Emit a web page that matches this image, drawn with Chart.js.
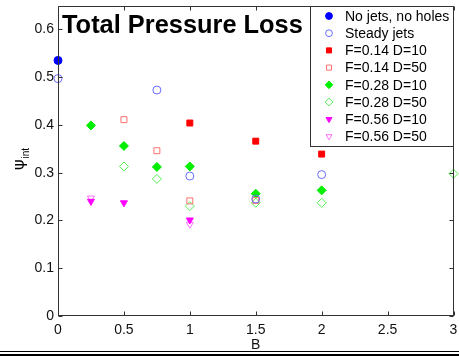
<!DOCTYPE html>
<html>
<head>
<meta charset="utf-8">
<script src="https://cdn.jsdelivr.net/npm/chart.js@4.4.1/dist/chart.umd.min.js"></script>
<style>
  body { margin: 0; background: #fff; }
  canvas { display: block; }
</style>
</head>
<body>
<canvas id="myChart" width="459" height="356"></canvas>
<script>
// values (x = B, y = psi_int)
const noJetsX = [0];
const noJetsY = [0.535];
const steadyX = [0, 0.75, 1, 1.5, 2];
const steadyY = [0.497, 0.473, 0.293, 0.245, 0.296];
const f14d10X = [1, 1.5, 2];
const f14d10Y = [0.404, 0.366, 0.339];
const f14d50X = [0.5, 0.75, 1, 1.5];
const f14d50Y = [0.411, 0.346, 0.241, 0.242];
const f28d10X = [0.25, 0.5, 0.75, 1, 1.5, 2];
const f28d10Y = [0.399, 0.356, 0.312, 0.313, 0.256, 0.263];
const f28d50X = [0.5, 0.75, 1, 1.5, 2, 3];
const f28d50Y = [0.313, 0.287, 0.230, 0.237, 0.237, 0.298];
const f56d10X = [0.25, 0.5, 1];
const f56d10Y = [0.240, 0.237, 0.201];
const f56d50X = [0.25, 1];
const f56d50Y = [0.247, 0.192];

const seriesLabels = ['No jets, no holes', 'Steady jets', 'F=0.14 D=10', 'F=0.14 D=50',
  'F=0.28 D=10', 'F=0.28 D=50', 'F=0.56 D=10', 'F=0.56 D=50'];

const xTicks = [0, 0.5, 1, 1.5, 2, 2.5, 3];
const xTickLabels = ['0', '0.5', '1', '1.5', '2', '2.5', '3'];
const yTicks = [0, 0.1, 0.2, 0.3, 0.4, 0.5, 0.6];
const yTickLabels = ['0', '0.1', '0.2', '0.3', '0.4', '0.5', '0.6'];

const titleText = 'Total Pressure Loss';
const xTitle = 'B';

function pts(xs, ys) {
  return xs.map((x, i) => ({ x: x, y: ys[i] }));
}

function series(label, xs, ys, style) {
  return Object.assign({
    label: label,
    data: pts(xs, ys),
    showLine: false,
    clip: false,
    pointBorderWidth: 1
  }, style);
}

const datasets = [
  series(seriesLabels[0], noJetsX, noJetsY, { pointStyle: 'circle', pointRadius: 4, pointBackgroundColor: '#0000ff', pointBorderColor: '#0000ff' }),
  series(seriesLabels[1], steadyX, steadyY, { pointStyle: 'circle', pointRadius: 4, pointBackgroundColor: 'rgba(0,0,0,0)', pointBorderColor: '#6a6aff' }),
  series(seriesLabels[2], f14d10X, f14d10Y, { pointStyle: 'rect', pointRadius: 4.2, pointBackgroundColor: '#ff0000', pointBorderColor: '#ff0000' }),
  series(seriesLabels[3], f14d50X, f14d50Y, { pointStyle: 'rect', pointRadius: 4.2, pointBackgroundColor: 'rgba(0,0,0,0)', pointBorderColor: '#ff7070' }),
  series(seriesLabels[4], f28d10X, f28d10Y, { pointStyle: 'rectRot', pointRadius: 4.5, pointBackgroundColor: '#00ee00', pointBorderColor: '#00ee00' }),
  series(seriesLabels[5], f28d50X, f28d50Y, { pointStyle: 'rectRot', pointRadius: 4.5, pointBackgroundColor: 'rgba(0,0,0,0)', pointBorderColor: '#55ee55' }),
  series(seriesLabels[6], f56d10X, f56d10Y, { pointStyle: 'triangle', pointRotation: 180, pointRadius: 4, pointBackgroundColor: '#ff00ff', pointBorderColor: '#ff00ff' }),
  series(seriesLabels[7], f56d50X, f56d50Y, { pointStyle: 'triangle', pointRotation: 180, pointRadius: 4, pointBackgroundColor: 'rgba(0,0,0,0)', pointBorderColor: '#ff70ff' })
];

const FONT = '"Liberation Sans", Arial, sans-serif';

// white page, matlab style box + inward ticks, title, legend, y label, bottom rule
const decorations = {
  id: 'decorations',
  beforeDraw(chart) {
    const ctx = chart.ctx;
    ctx.save();
    ctx.fillStyle = '#fff';
    ctx.fillRect(0, 0, chart.width, chart.height);
    ctx.restore();
  },
  afterDraw(chart) {
    const ctx = chart.ctx;
    const a = chart.chartArea;
    const xs = chart.scales.x, ys = chart.scales.y;
    const L = Math.round(a.left) + 0.5, R = Math.round(a.right) - 0.5;
    const T = Math.round(a.top) + 0.5, B = Math.round(a.bottom) - 0.5;
    ctx.save();
    ctx.strokeStyle = '#333';
    ctx.lineWidth = 1;
    ctx.strokeRect(L, T, R - L, B - T);
    ctx.beginPath();
    xTicks.forEach(v => {
      const px = Math.round(xs.getPixelForValue(v)) + 0.5;
      ctx.moveTo(px, B); ctx.lineTo(px, B - 4);
      ctx.moveTo(px, T); ctx.lineTo(px, T + 4);
    });
    yTicks.forEach(v => {
      const py = Math.round(ys.getPixelForValue(v)) + 0.5;
      ctx.moveTo(L, py); ctx.lineTo(L + 4, py);
      ctx.moveTo(R, py); ctx.lineTo(R - 4, py);
    });
    ctx.stroke();

    // title inside the plot
    ctx.fillStyle = '#000';
    ctx.font = 'bold 25.4px ' + FONT;
    ctx.textAlign = 'left';
    ctx.textBaseline = 'alphabetic';
    ctx.fillText(titleText, a.left + 4, 33);

    // legend box
    const lx = 310.5, ly = 6.5, lw = R - lx, lh = 140;
    ctx.fillStyle = '#fff';
    ctx.fillRect(lx, ly, lw, lh);
    ctx.strokeStyle = '#333';
    ctx.strokeRect(lx, ly, lw, lh);
    ctx.font = '14px ' + FONT;
    ctx.textBaseline = 'middle';
    chart.data.datasets.forEach((ds, i) => {
      const cy = 16 + i * 17.2;
      ctx.fillStyle = ds.pointBackgroundColor;
      ctx.strokeStyle = ds.pointBorderColor;
      ctx.lineWidth = 1;
      Chart.helpers.drawPoint(ctx, {
        pointStyle: ds.pointStyle,
        rotation: ds.pointRotation || 0,
        radius: ds.pointRadius * 0.85,
        borderWidth: 1
      }, 329, cy);
      ctx.fillStyle = '#000';
      ctx.fillText(ds.label, 345, cy + 1);
    });

    // y label: psi with subscript "int"
    ctx.translate(20, 170);
    ctx.rotate(-Math.PI / 2);
    ctx.fillStyle = '#000';
    ctx.textAlign = 'left';
    ctx.textBaseline = 'middle';
    ctx.font = '16px "DejaVu Sans", ' + FONT;
    ctx.fillText('\u03C8', 0, 0);
    const w = ctx.measureText('\u03C8').width;
    ctx.font = '10px ' + FONT;
    ctx.fillText('int', w + 1, 6);
    ctx.setTransform(1, 0, 0, 1, 0, 0);

    // double rule at the bottom of the figure
    ctx.fillStyle = '#000';
    ctx.fillRect(0, 351, chart.width, 1);
    ctx.fillRect(0, 354, chart.width, 2);
    ctx.restore();
  }
};

new Chart(document.getElementById('myChart'), {
  type: 'scatter',
  data: { datasets: datasets },
  options: {
    responsive: false,
    animation: false,
    devicePixelRatio: 1,
    layout: { padding: { left: 0, top: 2, right: 2, bottom: 0 } },
    plugins: {
      legend: { display: false },
      title: { display: false },
      tooltip: { enabled: false }
    },
    scales: {
      x: {
        type: 'linear',
        min: 0,
        max: 3,
        grid: { display: false, drawTicks: false },
        border: { display: false },
        afterBuildTicks: s => { s.ticks = xTicks.map(v => ({ value: v })); },
        afterFit: s => { s.height = 40; s.paddingLeft = 0; s.paddingRight = 0; },
        ticks: {
          autoSkip: false,
          maxRotation: 0,
          padding: 6,
          color: '#111',
          font: { family: FONT, size: 14 },
          callback: (v, i) => xTickLabels[i]
        },
        title: {
          display: true,
          text: xTitle,
          color: '#111',
          font: { family: FONT, size: 14 },
          padding: { top: 0, bottom: 2 }
        }
      },
      y: {
        type: 'linear',
        min: 0,
        max: 0.65,
        grid: { display: false, drawTicks: false },
        border: { display: false },
        afterBuildTicks: s => { s.ticks = yTicks.map(v => ({ value: v })); },
        afterFit: s => { s.width = 58; s.paddingTop = 0; s.paddingBottom = 0; },
        ticks: {
          autoSkip: false,
          padding: 4,
          color: '#111',
          font: { family: FONT, size: 14 },
          callback: (v, i) => yTickLabels[i]
        }
      }
    }
  },
  plugins: [decorations]
});
</script>
</body>
</html>
